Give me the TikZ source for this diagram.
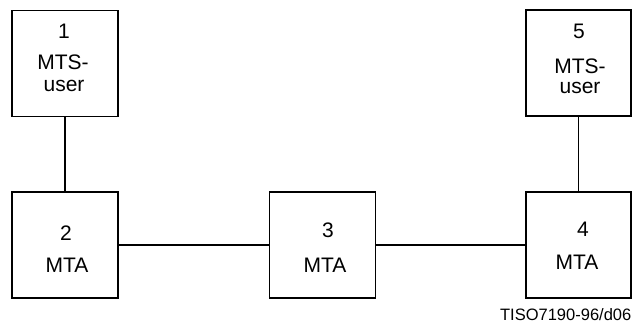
\documentclass[tikz,border=0pt]{standalone}
\usepackage{fontspec}
\setmainfont{Liberation Sans}
\usetikzlibrary{positioning}
\tikzset
{
    mtabox/.style   = {rectangle, draw=black, line width=1.4pt, minimum width=106pt, minimum height=106pt, inner sep=0pt, outer sep=0pt},
    boxlabel/.style = {font=\fontsize{21}{25}\selectfont, inner sep=0pt, anchor=center},
    figref/.style   = {font=\fontsize{16.5}{20}\selectfont, inner sep=0pt, anchor=east}
}

\begin{document}
\begin{tikzpicture}[x=1pt,y=-1pt,line width=1.4pt]
\useasboundingbox (0,0) rectangle (632,324);
\node [mtabox] at (65,63.5) (b1) {};
\node [mtabox] at (65,245) (b2) {};
\node [mtabox] at (322.5,245) (b3) {};
\node [mtabox, minimum width=105pt] at (578.5,245) (b4) {};
\node [mtabox, minimum width=105pt] at (578.5,63) (b5) {};
\node [boxlabel] at (64,31) (n1) {1};
\node [boxlabel] at (63,62) (m1) {MTS-};
\node [boxlabel] at (64,86) (u1) {user};
\node [boxlabel] at (66,233) (n2) {2};
\node [boxlabel] at (67,265) (m2) {MTA};
\node [boxlabel] at (328,230) (n3) {3};
\node [boxlabel] at (325,265) (m3) {MTA};
\node [boxlabel] at (583,229) (n4) {4};
\node [boxlabel] at (577,262) (m4) {MTA};
\node [boxlabel] at (579,31) (n5) {5};
\node [boxlabel] at (580,66) (m5) {MTS-};
\node [boxlabel] at (580,88) (u5) {user};
\node [figref] at (632,315) (ref) {TISO7190-96/d06};
\draw (b1.south) edge (b2.north);
\draw (b2.east) edge (b3.west);
\draw (b3.east) edge (b4.west);
\draw (b5.south) edge (b4.north);
\end{tikzpicture}
\end{document}
